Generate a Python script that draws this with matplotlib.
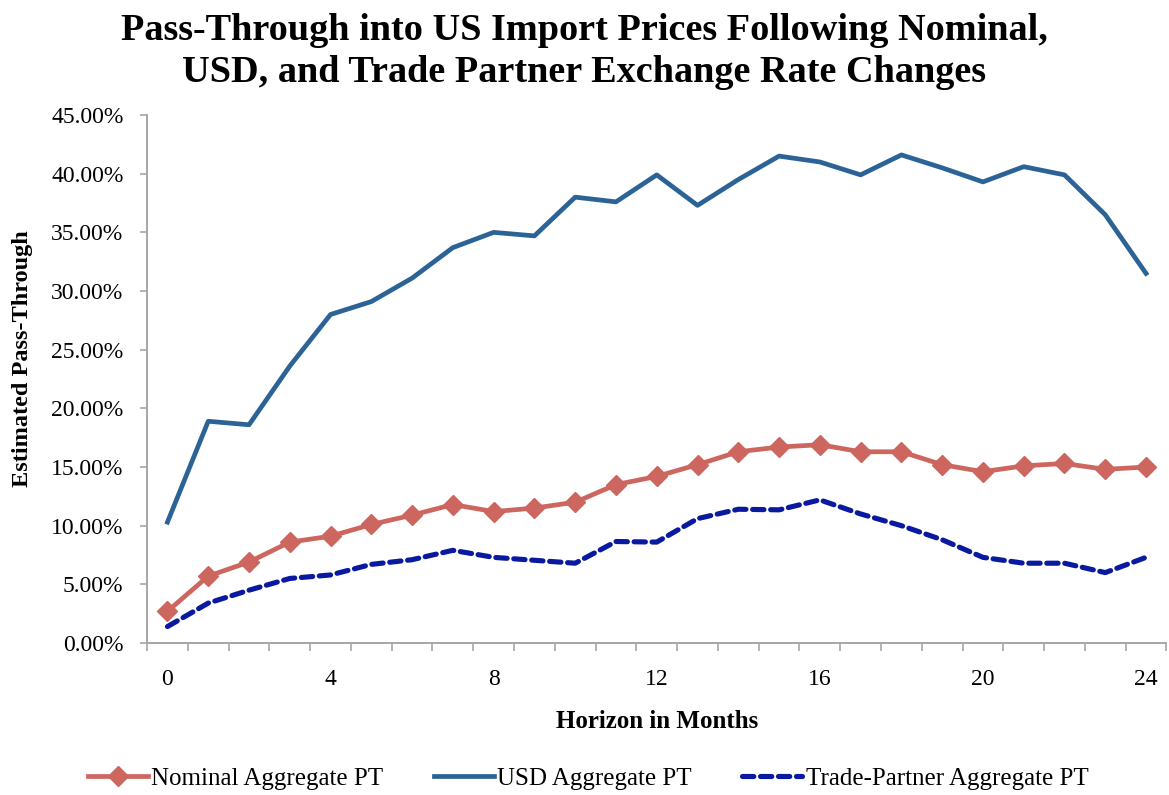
import numpy as np
import matplotlib
matplotlib.use("Agg")
import matplotlib.pyplot as plt
from matplotlib.ticker import FuncFormatter, FixedLocator

plt.rcParams['font.family'] = ['Liberation Serif', 'DejaVu Serif']

horizon = list(range(25))
nominal = [2.7, 5.7, 6.9, 8.6, 9.1, 10.1, 10.9, 11.8, 11.2, 11.5, 12.0, 13.5, 14.2,
           15.2, 16.3, 16.7, 16.9, 16.3, 16.3, 15.2, 14.6, 15.1, 15.3, 14.8, 15.0]
usd = [10.3, 18.9, 18.6, 23.6, 28.0, 29.1, 31.1, 33.7, 35.0, 34.7, 38.0, 37.6, 39.9,
       37.3, 39.5, 41.5, 41.0, 39.9, 41.6, 40.5, 39.3, 40.6, 39.9, 36.5, 31.5]
trade_partner = [1.4, 3.4, 4.5, 5.5, 5.8, 6.7, 7.1, 7.9, 7.3, 7.05, 6.8, 8.65, 8.6,
                 10.6, 11.4, 11.35, 12.2, 11.0, 10.0, 8.8, 7.3, 6.8, 6.8, 6.0, 7.3]

RED = '#CD665F'
BLUE = '#2C6396'
DARK = '#0A1AA0'
GRAY = '#A6A6A6'

fig = plt.figure(figsize=(11.69, 7.95), dpi=100)
ax = fig.add_axes([0.1258, 0.1912, 0.872, 0.6641])

x = np.array(horizon)
ax.plot(x, np.array(nominal) / 100, color=RED, lw=3.4, marker='D', ms=10,
        label='Nominal Aggregate PT')
ax.plot(x, np.array(usd) / 100, color=BLUE, lw=3.4, label='USD Aggregate PT')
ax.plot(x, np.array(trade_partner) / 100, color=DARK, lw=3.7, ls=(0, (2.2, 1.3)),
        dash_capstyle='round', label='Trade-Partner Aggregate PT')

ax.set_xlim(-0.5, 24.5)
ax.set_ylim(0, 0.45)
ax.set_yticks(np.arange(0, 0.451, 0.05))
ax.yaxis.set_major_formatter(FuncFormatter(lambda v, p: '%.2f%%' % (v * 100)))
ax.set_xticks(range(0, 25, 4))
ax.xaxis.set_minor_locator(FixedLocator(np.arange(-0.5, 24.6, 1)))
ax.tick_params(axis='x', which='major', length=0, pad=19, labelsize=17)
ax.tick_params(axis='x', which='minor', length=6, color=GRAY, width=1.2)
ax.tick_params(axis='y', length=5, color=GRAY, width=1.2, labelsize=17, pad=12)

for s in ['top', 'right']:
    ax.spines[s].set_visible(False)
for s in ['left', 'bottom']:
    ax.spines[s].set_color(GRAY)
    ax.spines[s].set_linewidth(1.4)

ax.set_xlabel('Horizon in Months', fontsize=18, fontweight='bold', va='center')
ax.xaxis.set_label_coords(0.5005, -0.1496)
ax.set_ylabel('Estimated Pass-Through', fontsize=17.5, fontweight='bold', va='center')
ax.yaxis.set_label_coords(-0.1225, 0.538)

fig.text(0.5, 0.962, 'Pass-Through into US Import Prices Following Nominal,',
         ha='center', va='center', fontsize=27.5, fontweight='bold')
fig.text(0.5, 0.909, 'USD, and Trade Partner Exchange Rate Changes',
         ha='center', va='center', fontsize=27.5, fontweight='bold')

fig.legend(loc='center', bbox_to_anchor=(0.503, 0.021), ncol=3, frameon=False,
           fontsize=18, handlelength=2.4, handletextpad=0.15, columnspacing=2.0)

fig.savefig('out.png', dpi=100)
